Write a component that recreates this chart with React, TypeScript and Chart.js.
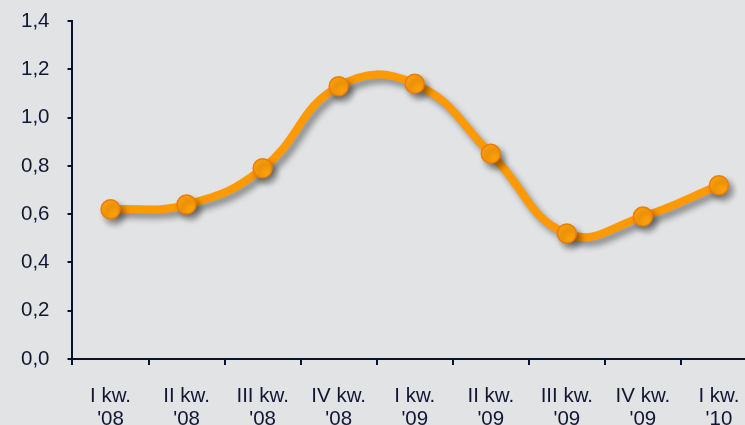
import React, { useEffect, useRef } from "react";
import { Chart, registerables } from "chart.js";

Chart.register(...registerables);

const categories: string[][] = [
  ["I kw.", "'08"],
  ["II kw.", "'08"],
  ["III kw.", "'08"],
  ["IV kw.", "'08"],
  ["I kw.", "'09"],
  ["II kw.", "'09"],
  ["III kw.", "'09"],
  ["IV kw.", "'09"],
  ["I kw.", "'10"],
];
const values: number[] = [0.62, 0.64, 0.79, 1.13, 1.14, 0.85, 0.52, 0.59, 0.72];

const BG = "#e2e3e5";
const AXIS = "#0b1230";
const TEXT = "#111634";
const ORANGE = "#ff9900";

const shadowPlugin = {
  id: "lineShadow",
  beforeDatasetsDraw(chart: any) {
    const ctx = chart.ctx;
    ctx.save();
    ctx.shadowColor = "rgba(0,0,0,0.4)";
    ctx.shadowBlur = 6;
    ctx.shadowOffsetX = 4;
    ctx.shadowOffsetY = 5;
  },
  afterDatasetsDraw(chart: any) {
    chart.ctx.restore();
  },
};

export default function App() {
  const ref = useRef<HTMLCanvasElement>(null);
  useEffect(() => {
    if (!ref.current) return;
    const chart = new Chart(ref.current, {
      type: "line",
      data: {
        labels: categories,
        datasets: [
          {
            data: values,
            borderColor: ORANGE,
            borderWidth: 8,
            tension: 0.45,
            pointRadius: 9.5,
            pointBackgroundColor: "#ffa00a",
            pointBorderColor: "#ec7d00",
            pointBorderWidth: 1.5,
            fill: false,
          },
        ],
      },
      options: {
        responsive: false,
        animation: false,
        layout: { padding: { left: 3, top: 21, right: 0, bottom: 0 } },
        plugins: { legend: { display: false }, tooltip: { enabled: false } },
        scales: {
          x: {
            offset: true,
            grid: {
              offset: true,
              drawOnChartArea: false,
              drawTicks: true,
              tickLength: 6,
              color: AXIS,
              lineWidth: 2,
            },
            border: { display: true, color: AXIS, width: 2 },
            ticks: {
              color: TEXT,
              font: { family: "Arial, 'Liberation Sans'", size: 20.5, lineHeight: 1.12 },
              padding: 20,
              maxRotation: 0,
              autoSkip: false,
            },
          },
          y: {
            min: 0,
            max: 1.4,
            afterFit: (scale: any) => {
              scale.paddingTop = 0;
              scale.paddingBottom = 0;
            },
            grid: {
              drawOnChartArea: false,
              drawTicks: true,
              tickLength: 5,
              color: AXIS,
              lineWidth: 2,
            },
            border: { display: true, color: AXIS, width: 2 },
            ticks: {
              stepSize: 0.2,
              color: TEXT,
              padding: 18,
              font: { family: "Arial, 'Liberation Sans'", size: 20.5 },
              callback: (v: any) => Number(v).toFixed(1).replace(".", ","),
            },
          },
        },
      },
      plugins: [shadowPlugin],
    });
    return () => chart.destroy();
  }, []);
  return (
    <div
      style={{
        position: "fixed",
        left: 0,
        top: 0,
        width: 745,
        height: 425,
        overflow: "hidden",
        background: BG,
      }}
    >
      <canvas ref={ref} width={768} height={451} style={{ display: "block", width: 768, height: 451 }} />
    </div>
  );
}
